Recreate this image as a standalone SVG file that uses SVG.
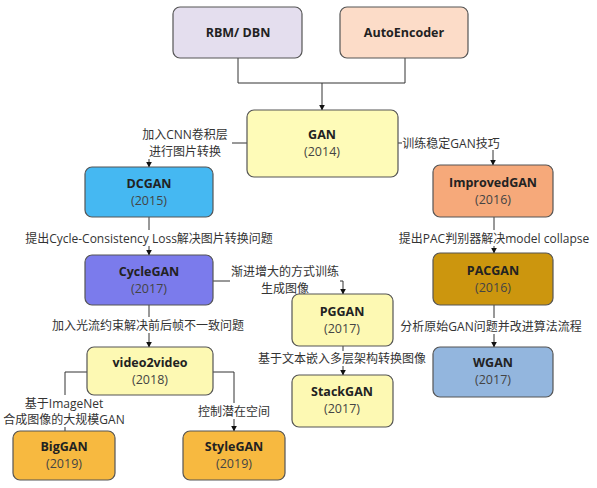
<svg xmlns="http://www.w3.org/2000/svg" width="597" height="488" viewBox="0 0 597 488">
<defs>
<marker id="ah" viewBox="0 0 10 10" refX="9" refY="5" markerWidth="6" markerHeight="6" orient="auto" markerUnits="userSpaceOnUse"><path d="M0,0 L10,5 L0,10 z" fill="#111"/></marker>
</defs>
<style>
.box{stroke:#555;stroke-width:1.2}
.t{font-family:"Open Sans","Noto Sans",sans-serif;font-weight:bold;font-size:12.5px;fill:#222;text-anchor:middle}
.y{font-family:"Open Sans","Noto Sans",sans-serif;font-size:12.5px;fill:#444;text-anchor:middle}
.l{font-family:"Open Sans","Noto Sans CJK SC",sans-serif;font-size:12px;fill:#333;text-anchor:middle}
.c{fill:none;stroke:#333;stroke-width:1}
</style>
<rect width="597" height="488" fill="#fff"/>
<g id="connectors">
<path class="c" d="M238,58 V83 M405,58 V83 M238,83 H405"/>
<path class="c" d="M322,83 V110" marker-end="url(#ah)"/>
<path class="c" d="M247,143 H232"/>
<path class="c" d="M149,159 V167" marker-end="url(#ah)"/>
<path class="c" d="M398,143 H402"/>
<path class="c" d="M493,150 V165" marker-end="url(#ah)"/>
<path class="c" d="M149,217 V230"/>
<path class="c" d="M149,246 V255" marker-end="url(#ah)"/>
<path class="c" d="M149,305 V317"/>
<path class="c" d="M149,333 V347" marker-end="url(#ah)"/>
<path class="c" d="M213,281 H230"/>
<path class="c" d="M340,281 H343 V294" marker-end="url(#ah)"/>
<path class="c" d="M343,346 V351"/>
<path class="c" d="M343,366 V375" marker-end="url(#ah)"/>
<path class="c" d="M494,217 V230"/>
<path class="c" d="M494,246 V253" marker-end="url(#ah)"/>
<path class="c" d="M494,305 V318"/>
<path class="c" d="M494,334 V347" marker-end="url(#ah)"/>
<path class="c" d="M87,372 H65 V395"/>
<path class="c" d="M65,427 V431"/>
<path class="c" d="M213,372 H234 V403"/>
<path class="c" d="M234,419 V431" marker-end="url(#ah)"/>
</g>
<g id="labels">
<text class="l" x="185" y="139">加入CNN卷积层</text>
<text class="l" x="185" y="156">进行图片转换</text>
<text class="l" x="451" y="148">训练稳定GAN技巧</text>
<text class="l" x="149" y="243">提出Cycle-Consistency Loss解决图片转换问题</text>
<text class="l" x="494" y="243">提出PAC判别器解决model collapse</text>
<text class="l" x="285" y="276">渐进增大的方式训练</text>
<text class="l" x="285" y="293">生成图像</text>
<text class="l" x="148" y="330">加入光流约束解决前后帧不一致问题</text>
<text class="l" x="491" y="331">分析原始GAN问题并改进算法流程</text>
<text class="l" x="342" y="363">基于文本嵌入多层架构转换图像</text>
<text class="l" x="64" y="408">基于ImageNet</text>
<text class="l" x="64" y="424">合成图像的大规模GAN</text>
<text class="l" x="234" y="416">控制潜在空间</text>
</g>
<g id="rbm"><rect class="box" x="173" y="7" width="129" height="51" rx="7" fill="#e4deee"/><text class="t" x="238" y="37">RBM/ DBN</text></g>
<g id="autoencoder"><rect class="box" x="340" y="7" width="128" height="51" rx="7" fill="#fcdcc8"/><text class="t" x="404" y="37">AutoEncoder</text></g>
<g id="gan"><rect class="box" x="247" y="110" width="151" height="67" rx="7" fill="#fefbb8"/><text class="t" x="322" y="139">GAN</text><text class="y" x="322" y="156">(2014)</text></g>
<g id="dcgan"><rect class="box" x="85" y="167" width="128" height="50" rx="7" fill="#45b8f2"/><text class="t" x="149" y="188">DCGAN</text><text class="y" x="149" y="205">(2015)</text></g>
<g id="improvedgan"><rect class="box" x="433" y="165" width="120" height="52" rx="7" fill="#f6a97a"/><text class="t" x="493" y="187">ImprovedGAN</text><text class="y" x="493" y="204">(2016)</text></g>
<g id="cyclegan"><rect class="box" x="85" y="255" width="128" height="50" rx="7" fill="#7b7bec"/><text class="t" x="149" y="276">CycleGAN</text><text class="y" x="149" y="293">(2017)</text></g>
<g id="pacgan"><rect class="box" x="433" y="253" width="120" height="52" rx="7" fill="#cc960e"/><text class="t" x="493" y="275">PACGAN</text><text class="y" x="493" y="292">(2016)</text></g>
<g id="pggan"><rect class="box" x="292" y="294" width="101" height="52" rx="7" fill="#fdf9b3"/><text class="t" x="342" y="316">PGGAN</text><text class="y" x="342" y="333">(2017)</text></g>
<g id="wgan"><rect class="box" x="433" y="347" width="120" height="50" rx="7" fill="#93b6de"/><text class="t" x="493" y="367">WGAN</text><text class="y" x="493" y="384">(2017)</text></g>
<g id="video2video"><rect class="box" x="87" y="347" width="126" height="48" rx="7" fill="#fdf9b3"/><text class="t" x="150" y="367">video2video</text><text class="y" x="150" y="384">(2018)</text></g>
<g id="stackgan"><rect class="box" x="292" y="375" width="101" height="52" rx="7" fill="#fdf9b3"/><text class="t" x="342" y="396">StackGAN</text><text class="y" x="342" y="413">(2017)</text></g>
<g id="biggan"><rect class="box" x="13" y="431" width="102" height="49" rx="7" fill="#f7b940"/><text class="t" x="64" y="451">BigGAN</text><text class="y" x="64" y="468">(2019)</text></g>
<g id="stylegan"><rect class="box" x="183" y="431" width="102" height="49" rx="7" fill="#f7b940"/><text class="t" x="234" y="451">StyleGAN</text><text class="y" x="234" y="468">(2019)</text></g>
</svg>
